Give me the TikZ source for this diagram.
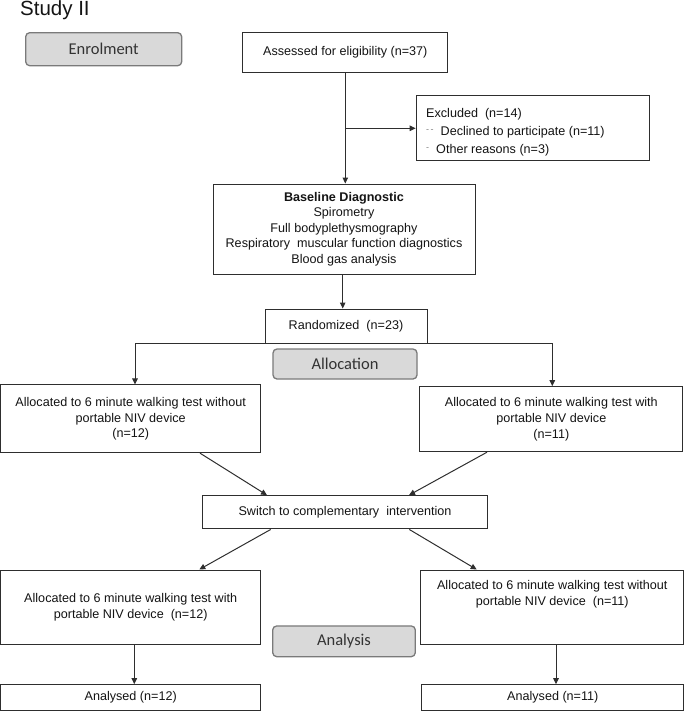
\documentclass[tikz,border=0pt]{standalone}
\usepackage{fontspec}
\setmainfont{Liberation Sans}
\newfontfamily\phasefont{Carlito}
\usetikzlibrary{arrows.meta,calc}
\definecolor{boxline}{HTML}{2E2E2E}
\definecolor{phasefill}{HTML}{D9D9D9}
\definecolor{phaseline}{HTML}{7A7A7A}
\definecolor{phasetext}{HTML}{333333}
\definecolor{txtcol}{HTML}{141414}
\begin{document}
\begin{tikzpicture}[x=1pt,y=-1pt,
  box/.style={draw=boxline, line width=1pt, fill=white, inner sep=0pt, align=center,
    text=txtcol, font=\fontsize{12.6}{15.6}\selectfont},
  txt/.style={inner sep=0pt, text=txtcol, font=\fontsize{12.6}{15.6}\selectfont},
  phase/.style={draw=phaseline, line width=1.3pt, fill=phasefill, rounded corners=4pt,
    inner sep=0pt, text=phasetext, font=\phasefont\fontsize{16.5}{18}\selectfont},
  arr/.style={draw=boxline, line width=1pt, -{Triangle[length=6pt,width=5.5pt]}},
  ln/.style={draw=boxline, line width=1pt}]
\useasboundingbox (0,0) rectangle (685,721);

\node[anchor=base west, inner sep=0pt, text=txtcol, font=\fontsize{20.5}{20.5}\selectfont] (title) at (20,15.5) {Study II};

% phase labels
\node[phase, minimum width=156pt, minimum height=33pt] (enrol) at (103.7,49.2) {Enrolment};
\node[phase, minimum width=144pt, minimum height=30pt] (alloc) at (345,364) {Allocation};
\node[phase, minimum width=142.6pt, minimum height=30.7pt] (anal) at (344,641.3) {Analysis};

% boxes
\node[box, minimum width=205pt, minimum height=40pt] (assess) at (345.3,52.2) {Assessed for eligibility (n=37)};
\node[box, minimum width=233pt, minimum height=65pt] (excl) at (532.7,128.3) {};
\node[txt, anchor=west, align=left, font=\fontsize{12.6}{18}\selectfont] (excltext) at (426,132) {Excluded\ \ (n=14)\\
{\color{gray}\raisebox{3pt}{\fontsize{9}{9}\selectfont -\,-}}\ \ Declined to participate (n=11)\\
{\color{gray}\raisebox{3pt}{\fontsize{9}{9}\selectfont -}}\ \ Other reasons (n=3)};
\node[box, minimum width=262pt, minimum height=90pt] (base) at (344,229) {\textbf{Baseline Diagnostic}\\Spirometry\\Full bodyplethysmography\\Respiratory\ \ muscular function diagnostics\\Blood gas analysis};
\node[box, minimum width=162pt, minimum height=34pt] (rand) at (346,326) {Randomized\ \ (n=23)};

\node[box, minimum width=260pt, minimum height=67.7pt] (L1) at (130.7,418.8) {Allocated to 6 minute walking test without\\portable NIV device\\(n=12)};
\node[box, minimum width=262.7pt, minimum height=65pt] (R1) at (551.3,419.2) {Allocated to 6 minute walking test with\\portable NIV device\\(n=11)};

\node[box, minimum width=284.6pt, minimum height=33.3pt] (switch) at (345,512.3) {Switch to complementary\ \ intervention};

\node[box, minimum width=260pt, minimum height=74pt] (L2) at (130.7,607) {Allocated to 6 minute walking test with\\portable NIV device\ \ (n=12)};
\node[box, minimum width=263.3pt, minimum height=74pt] (R2) at (552.3,607) {};
\node[txt, align=center] (R2text) at (552.3,594.3) {Allocated to 6 minute walking test without\\portable NIV device\ \ (n=11)};

\node[box, minimum width=260pt, minimum height=26pt] (LA) at (130.7,697.7) {Analysed (n=12)};
\node[box, minimum width=262.3pt, minimum height=26pt] (RA) at (552.8,697.7) {Analysed (n=11)};

% connectors
\draw[arr] (assess.south) -- (assess.south |- base.north);
\draw[arr] (assess.south |- excl.west) -- (excl.west);
\draw[arr] ([xshift=-1.3pt]base.south) -- ([xshift=-1.3pt]base.south |- rand.north);

\coordinate (splitL) at (135,343.3);
\coordinate (splitR) at (552.3,343.3);
\draw[ln] (splitL) -- (splitR);
\draw[arr] (splitL) -- (splitL |- L1.north);
\draw[arr] (splitR) -- (splitR |- R1.north);

\draw[arr] ([xshift=69.3pt]L1.south) -- ([xshift=-78pt]switch.north);
\draw[arr] ([xshift=-64.3pt]R1.south) -- ([xshift=64pt]switch.north);
\draw[arr] ([xshift=-74.3pt]switch.south) -- ([xshift=68.6pt]L2.north);
\draw[arr] ([xshift=64.3pt]switch.south) -- ([xshift=-75.6pt]R2.north);

\draw[arr] ([xshift=3.6pt]L2.south) -- ([xshift=3.6pt]LA.north);
\draw[arr] ([xshift=3.7pt]R2.south) -- ([xshift=3.2pt]RA.north);
\end{tikzpicture}
\end{document}
